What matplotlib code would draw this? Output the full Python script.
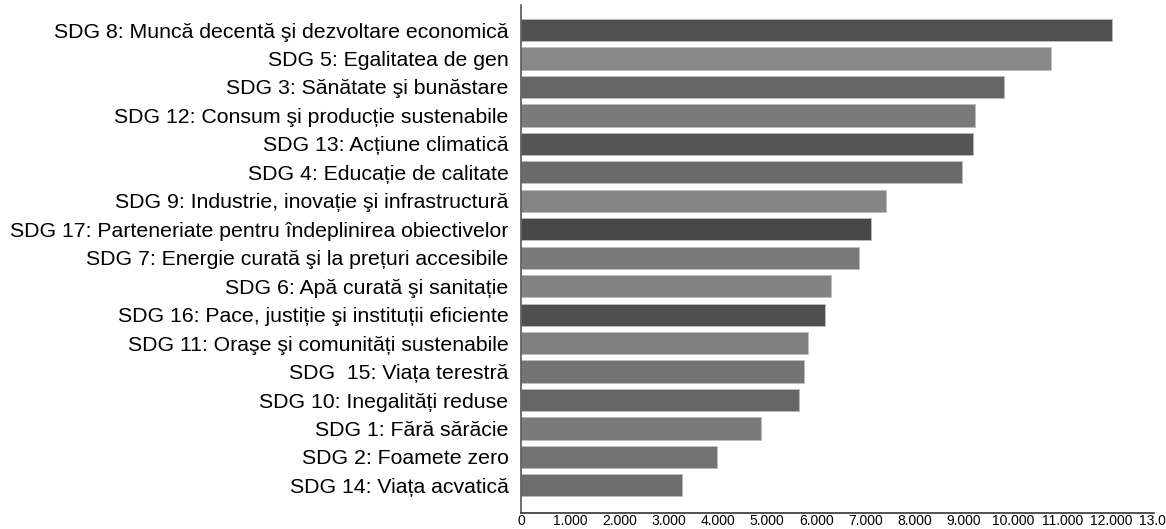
import matplotlib
matplotlib.use("Agg")
import matplotlib.pyplot as plt
from matplotlib.ticker import FuncFormatter
import numpy as np

categories = [
    "SDG 8: Muncă decentă şi dezvoltare economică",
    "SDG 5: Egalitatea de gen",
    "SDG 3: Sănătate şi bunăstare",
    "SDG 12: Consum şi producție sustenabile",
    "SDG 13: Acțiune climatică",
    "SDG 4: Educație de calitate",
    "SDG 9: Industrie, inovație şi infrastructură",
    "SDG 17: Parteneriate pentru îndeplinirea obiectivelor",
    "SDG 7: Energie curată şi la prețuri accesibile",
    "SDG 6: Apă curată şi sanitație",
    "SDG 16: Pace, justiție şi instituții eficiente",
    "SDG 11: Oraşe şi comunități sustenabile",
    "SDG  15: Viața terestră",
    "SDG 10: Inegalități reduse",
    "SDG 1: Fără sărăcie",
    "SDG 2: Foamete zero",
    "SDG 14: Viața acvatică",
]
values = [12010, 10770, 9820, 9230, 9190, 8960, 7420, 7110, 6870, 6300,
          6180, 5830, 5750, 5650, 4880, 3980, 3270]
bar_colors = ["#505050", "#888888", "#666666", "#7a7a7a", "#555555", "#6a6a6a",
              "#858585", "#474747", "#7a7a7a", "#838383", "#4f4f4f", "#808080",
              "#737373", "#666666", "#7a7a7a", "#737373", "#6c6c6c"]
xticks = list(range(0, 13001, 1000))

fig = plt.figure(figsize=(11.66, 5.29), dpi=100)
W, H = 1166, 529
x0, x1 = 521, 521 + 13 * 49.2
y_top, y_bot = 5, 513
ax = fig.add_axes([x0 / W, (H - y_bot) / H, (x1 - x0) / W, (y_bot - y_top) / H])

y = np.arange(len(categories))
ax.barh(y, values, height=0.78, color=bar_colors, edgecolor="#bdbdbd", linewidth=0.6)
n = len(categories)
ax.set_ylim(n - 1 + 0.97, -0.88)
ax.set_xlim(0, 13000)

ax.set_yticks(y)
ax.set_yticklabels(categories, fontsize=15.3, family=["Liberation Sans", "DejaVu Sans"])
ax.set_xticks(xticks)
ax.xaxis.set_major_formatter(FuncFormatter(lambda v, p: "0" if v == 0 else f"{int(v):,}".replace(",", ".")))
for lab in ax.get_xticklabels():
    lab.set_fontsize(10)
    lab.set_family(["Liberation Sans Narrow", "DejaVu Sans Condensed", "Liberation Sans"])
ax.tick_params(axis="both", length=0)
ax.tick_params(axis="y", pad=9)
ax.tick_params(axis="x", pad=1)

for s in ["top", "right"]:
    ax.spines[s].set_visible(False)
ax.spines["left"].set_color("#555555")
ax.spines["left"].set_linewidth(1.2)
ax.spines["bottom"].set_color("#333333")
ax.spines["bottom"].set_linewidth(1.2)
ax.spines["bottom"].set_bounds(0, 12870)

fig.savefig("out.png", dpi=100)
